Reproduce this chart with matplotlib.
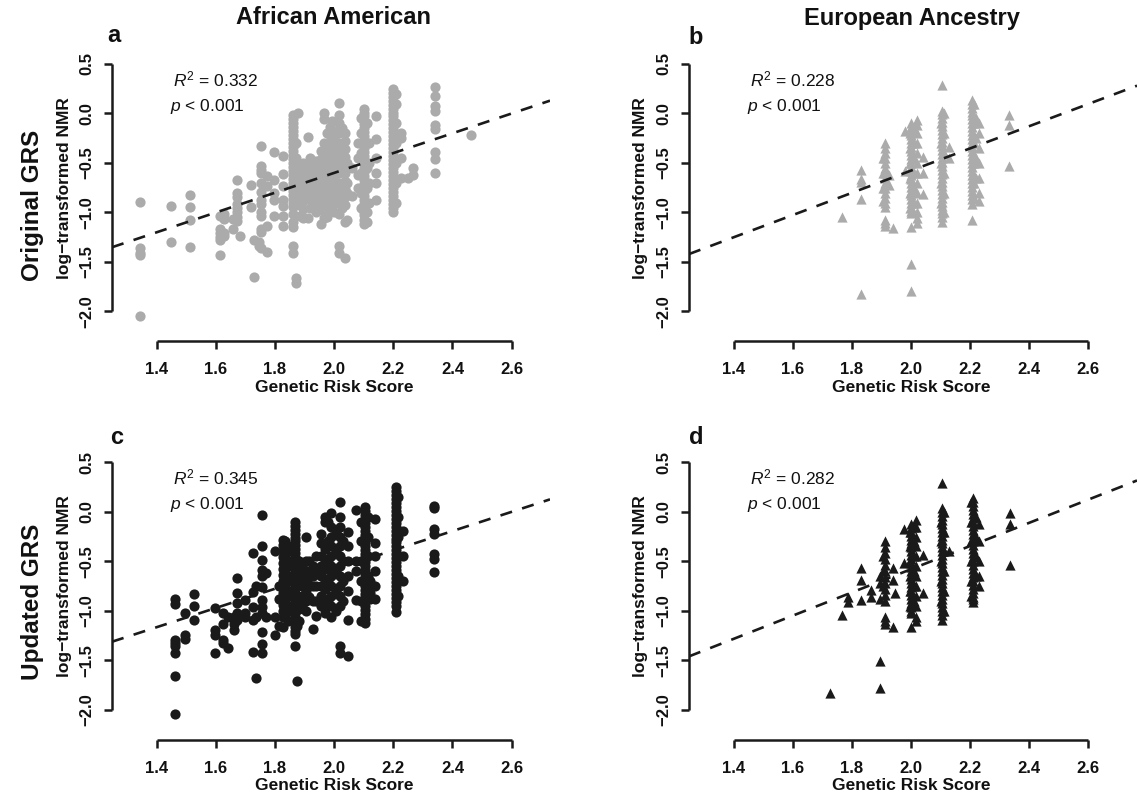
import matplotlib
matplotlib.use("Agg")
import matplotlib.pyplot as plt

plt.rcParams['font.family'] = ['Liberation Sans', 'DejaVu Sans']
plt.rcParams['mathtext.fontset'] = 'custom'
plt.rcParams['mathtext.rm'] = 'Liberation Sans'
plt.rcParams['mathtext.it'] = 'Liberation Sans:italic'
plt.rcParams['mathtext.bf'] = 'Liberation Sans:bold'

# ---------------- data ----------------
col_titles = ["African American", "European Ancestry"]
row_titles = ["Original GRS", "Updated GRS"]
panel_letters = ["a", "b", "c", "d"]
r2_values = ["0.332", "0.228", "0.345", "0.282"]
p_text = "< 0.001"
x_ticks = [1.4, 1.6, 1.8, 2.0, 2.2, 2.4, 2.6]
y_ticks = [-2.0, -1.5, -1.0, -0.5, 0.0, 0.5]
x_label = "Genetic Risk Score"
y_label = "log\u2212transformed NMR"

# regression lines: (intercept, slope)
fit_a = (-2.60, 1.00)
fit_b = (-2.817, 1.12)
fit_c = (-2.525, 0.971)
fit_d = (-2.92, 1.17)

# panel a: African American, original GRS  (column GRS value, NMR values)
a_grs = [1.344, 1.45, 1.513, 1.615, 1.627, 1.657, 1.67, 1.682, 1.718, 1.73, 1.745,
         1.754, 1.772, 1.796, 1.827, 1.862, 1.872, 1.879, 1.895, 1.91, 1.93, 1.954,
         1.966, 1.985, 2.0, 2.017, 2.036, 2.06, 2.08, 2.10, 2.118, 2.142, 2.20,
         2.227, 2.25, 2.265, 2.34, 2.463,
         1.87, 1.885, 1.92, 1.94, 1.975, 1.993, 2.008, 2.026, 2.045, 2.09, 2.11, 2.21]
a_nmr = [
    [-0.89, -1.36, -1.41, -1.43, -2.05],
    [-0.93, -1.30],
    [-0.82, -0.94, -1.08, -1.35],
    [-1.04, -1.17, -1.21, -1.25, -1.28, -1.43],
    [-1.02, -1.07, -1.21, -1.24],
    [-1.07, -1.17],
    [-0.67, -0.80, -0.84, -0.91, -0.95, -1.00, -1.05, -1.09],
    [-1.24],
    [-0.72, -0.94],
    [-1.65, -1.28],
    [-1.30, -1.34],
    [-0.33, -0.53, -0.57, -0.60, -0.70, -0.79, -0.87, -0.91, -1.00, -1.04, -1.17, -1.20, -1.36],
    [-0.63, -0.73, -1.14, -1.40],
    [-0.39, -0.67, -0.80, -0.87, -1.04],
    [-0.43, -0.61, -0.73, -0.87, -0.93, -1.04, -1.14],
    [-0.02, -0.06, -0.10, -0.14, -0.18, -0.22, -0.26, -0.30, -0.34, -0.38, -0.42, -0.46,
     -0.50, -0.54, -0.58, -0.62, -0.66, -0.70, -0.74, -0.78, -0.82, -0.86, -0.90, -0.94,
     -1.02, -1.10, -1.15, -1.34, -1.41],
    [-1.66, -1.71],
    [0.00, -0.55, -0.72, -0.85],
    [-0.50, -0.55, -0.62, -0.68, -0.78, -0.88, -0.96, -1.06],
    [-0.24, -0.52, -0.60, -0.66, -0.74, -0.84, -1.06],
    [-0.50, -0.58, -0.64, -0.70, -0.80],
    [-0.38, -0.46, -0.54, -0.62, -0.70, -0.78, -0.86, -0.94, -1.12],
    [0.00, -0.06, -0.30, -0.42, -0.50, -0.58, -0.66, -0.74, -0.82, -0.90, -0.98, -1.06],
    [-0.14, -0.22, -0.30, -0.38, -0.46, -0.54, -0.62, -0.70, -0.78, -0.86, -0.94],
    [-0.18, -0.26, -0.34, -0.42, -0.50, -0.58, -0.66, -0.74, -0.82, -0.90, -1.00],
    [0.11, -0.02, -0.10, -0.20, -0.30, -0.40, -0.50, -0.60, -0.70, -0.80, -0.90, -1.02, -1.34, -1.41],
    [-0.20, -0.28, -0.36, -0.44, -0.52, -0.60, -0.68, -0.76, -0.84, -0.92, -1.10, -1.46],
    [-0.55, -0.83],
    [-0.30, -0.45, -0.62, -0.75],
    [0.05, 0.01, -0.03, -0.07, -0.11, -0.15, -0.19, -0.23, -0.27, -0.31, -0.35, -0.39,
     -0.43, -0.47, -0.51, -0.55, -0.59, -0.63, -0.67, -0.71, -0.75, -0.79, -0.83, -0.87,
     -0.91, -0.95, -0.99, -1.03, -1.08, -1.12],
    [-0.30, -0.50, -0.70, -0.90],
    [-0.03, -0.26, -0.45, -0.60, -0.70, -0.87],
    [0.25, 0.21, 0.17, 0.13, 0.09, 0.05, 0.01, -0.03, -0.07, -0.11, -0.15, -0.19, -0.23,
     -0.27, -0.31, -0.35, -0.39, -0.43, -0.47, -0.51, -0.55, -0.59, -0.63, -0.67, -0.71,
     -0.75, -0.79, -0.83, -0.87, -0.91, -0.95, -0.99],
    [-0.20, -0.25, -0.45, -0.65],
    [-0.65],
    [-0.62, -0.55],
    [0.27, 0.18, 0.08, 0.03, -0.12, -0.16, -0.39, -0.46, -0.60],
    [-0.22],
    [-0.30, -0.45, -0.60, -0.75, -0.90],
    [-0.52, -0.62, -0.70, -0.80, -0.92, -1.04],
    [-0.45, -0.56, -0.68, -0.76, -0.86, -0.95],
    [-0.48, -0.56, -0.66, -0.74, -0.82, -0.90, -1.00],
    [-0.20, -0.36, -0.48, -0.60, -0.72, -0.84, -0.96, -1.05],
    [-0.08, -0.22, -0.36, -0.50, -0.64, -0.78, -0.92],
    [-0.30, -0.45, -0.60, -0.75, -0.88],
    [-0.15, -0.35, -0.55, -0.72, -0.95],
    [-0.50, -0.70, -0.80, -1.08],
    [-0.05, -0.20, -0.40, -0.60, -0.80, -0.95],
    [-0.10, -0.30, -0.55, -0.75, -1.00, -1.10],
    [0.20, 0.10, -0.10, -0.30, -0.50, -0.70, -0.90],
]

# panel b: European Ancestry, original GRS
b_grs = [1.766, 1.829, 1.912, 1.925, 1.94, 1.979, 2.0, 2.02, 2.04, 2.106, 2.13, 2.208, 2.23, 2.332,
         1.905, 1.995, 2.01, 2.10, 2.112, 2.215, 2.22]
b_nmr = [
    [-1.045],
    [-0.57, -0.66, -0.69, -0.86, -1.82],
    [-0.30, -0.35, -0.40, -0.45, -0.50, -0.55, -0.60, -0.65, -0.70, -0.75, -0.80, -0.85,
     -0.90, -0.94, -1.08, -1.11, -1.14],
    [-0.62, -0.72],
    [-1.16],
    [-0.18, -0.58],
    [-0.10, -0.14, -0.18, -0.22, -0.26, -0.30, -0.34, -0.38, -0.42, -0.46, -0.50, -0.54,
     -0.58, -0.62, -0.66, -0.70, -0.74, -0.78, -0.82, -0.86, -0.90, -0.94, -0.98, -1.01,
     -1.15, -1.52, -1.79],
    [-0.07, -0.12, -0.20, -0.30, -0.40, -0.50, -0.60, -0.70, -0.80, -0.90, -1.00, -1.06, -1.11],
    [-0.44, -0.60, -0.81],
    [0.29, 0.03, -0.01, -0.05, -0.09, -0.13, -0.17, -0.21, -0.25, -0.29, -0.33, -0.37,
     -0.41, -0.45, -0.49, -0.53, -0.57, -0.61, -0.65, -0.69, -0.73, -0.77, -0.81, -0.85,
     -0.89, -0.93, -0.97, -1.01, -1.05, -1.10],
    [-0.34, -0.45],
    [0.14, 0.10, 0.06, 0.02, -0.02, -0.06, -0.10, -0.14, -0.18, -0.22, -0.26, -0.30,
     -0.34, -0.38, -0.42, -0.46, -0.50, -0.54, -0.58, -0.62, -0.66, -0.70, -0.74, -0.78,
     -0.82, -0.86, -0.91, -1.08],
    [-0.10, -0.20, -0.35, -0.50, -0.65, -0.80, -0.88],
    [-0.02, -0.12, -0.53],
    [-0.45, -0.60, -0.75, -0.88],
    [-0.20, -0.35, -0.50, -0.65, -0.80, -0.95],
    [-0.15, -0.30, -0.45, -0.60, -0.75, -0.90],
    [-0.10, -0.30, -0.50, -0.70, -0.90],
    [0.00, -0.20, -0.40, -0.60, -0.80, -1.00],
    [0.10, -0.10, -0.30, -0.50, -0.70, -0.85],
    [-0.05, -0.25, -0.45, -0.65],
]

# panel c: African American, updated GRS
c_grs = [1.463, 1.496, 1.526, 1.598, 1.625, 1.64, 1.66, 1.672, 1.70, 1.725, 1.737, 1.757,
         1.771, 1.80, 1.815, 1.828, 1.845, 1.868, 1.876, 1.89, 1.905, 1.93, 1.955, 1.97,
         1.99, 2.02, 2.046, 2.074, 2.103, 2.12, 2.137, 2.21, 2.233, 2.336,
         1.835, 1.855, 1.88, 1.915, 1.94, 1.98, 2.005, 2.03, 2.09, 2.115, 2.215]
c_nmr = [
    [-0.88, -0.93, -1.29, -1.33, -1.36, -1.43, -1.66, -2.04],
    [-1.02, -1.24, -1.28],
    [-0.83, -0.95, -1.09],
    [-0.97, -1.19, -1.24, -1.43],
    [-1.02, -1.13, -1.29, -1.33],
    [-1.38, -1.06],
    [-1.06, -1.13, -1.19],
    [-0.67, -0.82, -0.92, -1.02, -1.09],
    [-0.89, -1.02, -1.06],
    [-0.42, -0.81, -0.96, -1.09, -1.42],
    [-1.68, -1.06, -0.75],
    [-0.03, -0.35, -0.49, -0.59, -0.65, -0.76, -0.89, -0.96, -1.02, -1.21, -1.34, -1.43],
    [-0.62, -1.06],
    [-0.40, -1.06, -1.24],
    [-0.75, -0.88, -1.15],
    [-0.28, -0.34, -0.40, -0.46, -0.52, -0.58, -0.64, -0.70, -0.76, -0.82, -0.88, -0.94,
     -1.00, -1.06, -1.16],
    [-0.35, -0.50, -0.65, -0.80, -0.95, -1.10],
    [-0.10, -0.14, -0.18, -0.22, -0.26, -0.30, -0.34, -0.38, -0.42, -0.46, -0.50, -0.54,
     -0.58, -0.62, -0.66, -0.70, -0.74, -0.78, -0.82, -0.86, -0.90, -0.94, -0.98, -1.02,
     -1.06, -1.10, -1.16, -1.20, -1.23, -1.36],
    [-1.71, -1.15],
    [-0.55, -0.65, -0.75, -0.85, -0.95],
    [-0.25, -0.50, -0.60, -0.70, -0.80, -0.90, -1.00],
    [-1.18, -0.55, -0.65, -0.75, -0.90],
    [-0.22, -0.32, -0.45, -0.55, -0.65, -0.75, -0.85, -0.95],
    [-0.05, -0.10, -0.38, -0.48, -0.58, -0.68, -0.78, -0.88, -0.98, -1.02],
    [-0.01, -0.15, -0.25, -0.35, -0.45, -0.55, -0.65, -0.75, -0.85, -0.95, -1.06],
    [0.10, -0.05, -0.15, -0.25, -0.35, -0.45, -0.55, -0.65, -0.75, -0.85, -0.95, -1.36, -1.43],
    [-0.20, -0.35, -0.50, -0.65, -0.80, -1.09, -1.46],
    [0.02, -0.50, -0.60, -0.89],
    [0.05, 0.01, -0.03, -0.07, -0.11, -0.15, -0.19, -0.23, -0.27, -0.31, -0.35, -0.39,
     -0.43, -0.47, -0.51, -0.55, -0.59, -0.63, -0.67, -0.71, -0.75, -0.79, -0.83, -0.87,
     -0.91, -0.95, -0.99, -1.03, -1.08, -1.12],
    [-0.70, -0.78, -0.82, -0.88],
    [-0.07, -0.32, -0.45, -0.60, -0.75, -0.88],
    [0.25, 0.21, 0.17, 0.13, 0.09, 0.05, 0.01, -0.03, -0.07, -0.11, -0.15, -0.19, -0.23,
     -0.27, -0.31, -0.35, -0.39, -0.43, -0.47, -0.51, -0.55, -0.59, -0.63, -0.67, -0.71,
     -0.75, -0.79, -0.83, -0.87, -0.91, -0.95, -1.01],
    [-0.19, -0.45, -0.70],
    [0.06, 0.04, -0.17, -0.22, -0.43, -0.48, -0.61],
    [-0.30, -0.45, -0.60, -0.75, -0.90, -1.05],
    [-0.40, -0.55, -0.70, -0.85, -1.00],
    [-0.50, -0.62, -0.74, -0.86, -0.98, -1.10],
    [-0.50, -0.62, -0.74, -0.86],
    [-0.45, -0.60, -0.75, -0.90, -1.05],
    [-0.10, -0.30, -0.50, -0.70, -0.90],
    [-0.20, -0.40, -0.60, -0.80, -1.00],
    [-0.30, -0.50, -0.70, -0.90],
    [-0.10, -0.30, -0.50, -0.70, -0.90, -1.10],
    [-0.05, -0.25, -0.45, -0.65, -0.85],
    [0.15, -0.05, -0.25, -0.45, -0.65, -0.85],
]

# panel d: European Ancestry, updated GRS
d_grs = [1.724, 1.767, 1.787, 1.829, 1.865, 1.894, 1.913, 1.938, 1.947, 1.975, 2.0,
         2.018, 2.04, 2.106, 2.13, 2.211, 2.23, 2.336,
         1.905, 1.995, 2.01, 2.10, 2.112, 2.205, 2.22]
d_nmr = [
    [-1.83],
    [-1.04],
    [-0.86, -0.91],
    [-0.57, -0.69, -0.89],
    [-0.79, -0.86],
    [-0.65, -0.72, -0.88, -1.51, -1.78],
    [-0.30, -0.36, -0.42, -0.48, -0.54, -0.60, -0.66, -0.72, -0.78, -0.84, -0.90,
     -1.06, -1.10, -1.13],
    [-0.57, -0.69, -1.16],
    [-0.82],
    [-0.17, -0.52],
    [-0.12, -0.16, -0.20, -0.24, -0.28, -0.32, -0.36, -0.40, -0.44, -0.48, -0.52, -0.56,
     -0.60, -0.64, -0.68, -0.72, -0.76, -0.80, -0.84, -0.88, -0.92, -0.96, -1.00, -1.02, -1.16],
    [-0.08, -0.15, -0.25, -0.35, -0.45, -0.55, -0.65, -0.75, -0.85, -0.95, -1.06, -1.10],
    [-0.44, -0.82],
    [0.29, 0.04, 0.00, -0.04, -0.08, -0.12, -0.16, -0.20, -0.24, -0.28, -0.32, -0.36,
     -0.40, -0.44, -0.48, -0.52, -0.56, -0.60, -0.64, -0.68, -0.72, -0.76, -0.80, -0.84,
     -0.88, -0.92, -0.96, -1.00, -1.04, -1.09],
    [-0.40],
    [0.14, 0.10, 0.06, 0.02, -0.02, -0.06, -0.10, -0.14, -0.18, -0.22, -0.26, -0.30,
     -0.34, -0.38, -0.42, -0.46, -0.50, -0.54, -0.58, -0.62, -0.66, -0.70, -0.74, -0.78,
     -0.82, -0.86, -0.88, -0.91],
    [-0.12, -0.30, -0.50, -0.65, -0.75],
    [-0.01, -0.12, -0.54],
    [-0.45, -0.60, -0.75],
    [-0.20, -0.35, -0.50, -0.65, -0.80, -0.95],
    [-0.15, -0.30, -0.45, -0.60, -0.75, -0.90],
    [-0.10, -0.30, -0.50, -0.70, -0.90],
    [0.00, -0.20, -0.40, -0.60, -0.80, -1.00],
    [0.10, -0.10, -0.30, -0.50, -0.70, -0.85],
    [-0.05, -0.25, -0.45, -0.65],
]

# ---------------- drawing ----------------
W, H = 1137, 798
fig = plt.figure(figsize=(W / 100, H / 100), dpi=100)

GRAY = "#ABABAB"
BLACK = "#1A1A1A"
AXC = "#1A1A1A"


def expand(cols, vals):
    xs, ys = [], []
    for xv, yl in zip(cols, vals):
        for yv in yl:
            xs.append(xv)
            ys.append(yv)
    return xs, ys


def px_rect(left, top, right, bottom):
    return [left / W, 1 - bottom / H, (right - left) / W, (bottom - top) / H]


panels = [
    dict(rect=px_rect(112, 54, 550, 341), xlim=(1.249, 2.7297), ylim=(-2.298, 0.601),
         cols=a_grs, vals=a_nmr, fit=fit_a, color=GRAY, marker="o", s=54, r2=r2_values[0]),
    dict(rect=px_rect(689, 54, 1137, 341), xlim=(1.2475, 2.766), ylim=(-2.298, 0.601),
         cols=b_grs, vals=b_nmr, fit=fit_b, color=GRAY, marker="^", s=54, r2=r2_values[1]),
    dict(rect=px_rect(112, 452, 550, 740), xlim=(1.249, 2.7297), ylim=(-2.305, 0.604),
         cols=c_grs, vals=c_nmr, fit=fit_c, color=BLACK, marker="o", s=54, r2=r2_values[2]),
    dict(rect=px_rect(689, 452, 1137, 740), xlim=(1.2475, 2.766), ylim=(-2.305, 0.604),
         cols=d_grs, vals=d_nmr, fit=fit_d, color=BLACK, marker="^", s=54, r2=r2_values[3]),
]

for i, p in enumerate(panels):
    ax = fig.add_axes(p["rect"])
    ax.set_xlim(*p["xlim"])
    ax.set_ylim(*p["ylim"])
    xs, ys = expand(p["cols"], p["vals"])
    ax.scatter(xs, ys, s=p["s"], c=p["color"], marker=p["marker"], linewidths=0, zorder=2)
    b0, b1 = p["fit"]
    x0, x1 = p["xlim"]
    ax.plot([x0, x1], [b0 + b1 * x0, b0 + b1 * x1], color=BLACK, lw=1.9,
            dashes=[4.6, 4.0], zorder=3, solid_capstyle="butt", dash_capstyle="butt")

    for side in ("top", "right"):
        ax.spines[side].set_visible(False)
    ax.spines["left"].set_bounds(y_ticks[0], y_ticks[-1])
    ax.spines["bottom"].set_bounds(x_ticks[0], x_ticks[-1])
    for side in ("left", "bottom"):
        ax.spines[side].set_linewidth(1.8)
        ax.spines[side].set_color(AXC)
        ax.spines[side].set_capstyle("butt")

    ax.set_xticks(x_ticks)
    ax.set_xticklabels([f"{v:.1f}" for v in x_ticks])
    ax.set_yticks(y_ticks)
    ax.set_yticklabels([f"{v:.1f}".replace("-", "\u2212") for v in y_ticks],
                       rotation=90, va="center")
    ax.tick_params(axis="both", direction="out", length=6, width=1.8, color=AXC,
                   labelsize=12, labelcolor="#111111")
    ax.tick_params(axis="x", pad=9)
    ax.tick_params(axis="y", pad=7)
    for lab in ax.get_xticklabels() + ax.get_yticklabels():
        lab.set_fontweight("bold")

    axw_px = p["rect"][2] * W
    axh_px = p["rect"][3] * H
    ax.set_xlabel(x_label, fontsize=12.5, fontweight="bold", color="#111111")
    ax.xaxis.set_label_coords((2.0 - x0) / (x1 - x0), -46 / axh_px)
    ax.xaxis.label.set_va("center")
    ax.set_ylabel(y_label, fontsize=12.5, fontweight="bold", color="#111111")
    ax.yaxis.set_label_coords(-48 / axw_px, (-0.75 - p["ylim"][0]) / (p["ylim"][1] - p["ylim"][0]))
    ax.yaxis.label.set_va("center")

    ax.text(1.60, 0.345, r"$\mathit{R}^{2}$" + " = " + p["r2"], fontsize=12.5,
            ha="center", va="center", color="#111111")
    ax.text(1.57, 0.072, r"$\mathit{p}$" + " " + p_text, fontsize=12.5,
            ha="center", va="center", color="#111111")

# panel letters
letter_pos = [(114, 35), (696, 37), (117, 437), (696, 437)]
for letter, (lx, ly) in zip(panel_letters, letter_pos):
    fig.text(lx / W, 1 - ly / H, letter, fontsize=17, fontweight="bold",
             ha="center", va="center", color="#111111")

# column titles
fig.text(334 / W, 1 - 18 / H, col_titles[0], fontsize=17, fontweight="bold",
         ha="center", va="center", color="#111111")
fig.text(912 / W, 1 - 18 / H, col_titles[1], fontsize=17, fontweight="bold",
         ha="center", va="center", color="#111111")

# row titles
fig.text(33 / W, 1 - 205 / H, row_titles[0], fontsize=17.5, fontweight="bold",
         rotation=90, ha="center", va="center", color="#111111")
fig.text(33 / W, 1 - 602 / H, row_titles[1], fontsize=17.5, fontweight="bold",
         rotation=90, ha="center", va="center", color="#111111")

fig.savefig("out.png", dpi=100, facecolor="white")
